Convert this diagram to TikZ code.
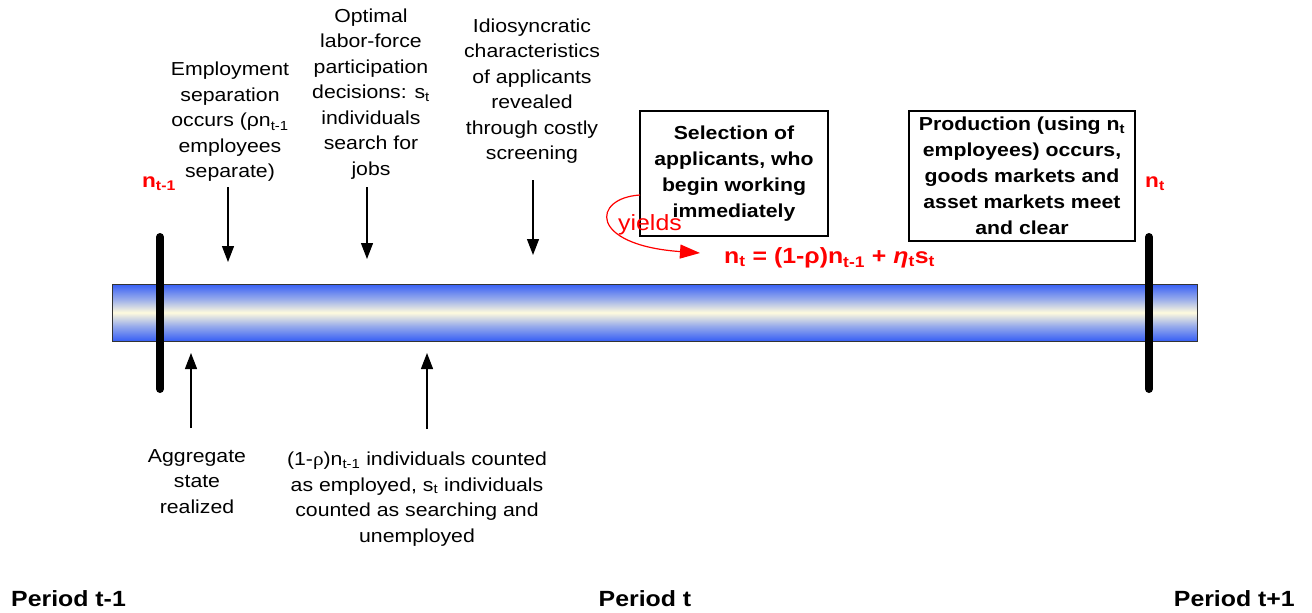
\documentclass[tikz,border=0pt]{standalone}
\usepackage{fontspec}
\setmainfont{Liberation Sans}[FakeStretch=1.13]
\newfontfamily\rhofont{Liberation Serif}[FakeStretch=1.13]
\usetikzlibrary{arrows.meta}
\definecolor{bbone}{RGB}{55,95,245}
\definecolor{bbtwo}{RGB}{150,170,235}
\definecolor{bbcream}{RGB}{255,251,222}
\pgfdeclareverticalshading{barshade}{100bp}{color(0bp)=(bbone); color(25bp)=(bbone);
  color(38bp)=(bbtwo); color(50bp)=(bbcream); color(62bp)=(bbtwo);
  color(75bp)=(bbone); color(100bp)=(bbone)}
\begin{document}
\begin{tikzpicture}[x=1pt,y=-1pt,
  txt/.style={align=center, inner sep=0pt, font=\fontsize{18.8}{25.5}\selectfont,
    execute at begin node=\strut, execute at end node=\strut},
  boxtxt/.style={draw, line width=2pt, align=center, inner sep=0pt,
    font=\bfseries\fontsize{18.8}{26}\selectfont},
  redlbl/.style={text=red, font=\bfseries\fontsize{20}{24}\selectfont, inner sep=0pt},
  period/.style={font=\bfseries\fontsize{22}{26}\selectfont, inner sep=0pt},
  evarrow/.style={line width=1.3pt, -{Triangle[width=12pt,length=16pt]}},
  tickline/.style={line width=8pt, line cap=round},
]
\useasboundingbox (0,0) rectangle (1312,613);

% timeline bar
\node[draw=black!80, line width=1pt, minimum width=1085pt, minimum height=57pt,
  inner sep=0pt, shading=barshade]
  (bar) at (654.5,312.5) {};

% period boundaries
\coordinate (L1) at (160,237);
\coordinate (L2) at (160,389);
\coordinate (R1) at (1149,237);
\coordinate (R2) at (1149,389);
\draw[tickline] (L1) -- (L2);
\draw[tickline] (R1) -- (R2);

\node[redlbl] (nprev) at (159,184) {n\textsubscript{t-1}};
\node[redlbl] (nnext) at (1155,184) {n\textsubscript{t}};

% events above
\node[txt] (emp) at (230,124) {Employment\\separation\\occurs (ρn\textsubscript{t-1}\\employees\\separate)};
\node[txt] (opt) at (371,96) {Optimal\\labor-force\\participation\\decisions: s\textsubscript{t}\\individuals\\search for\\jobs};
\node[txt] (idio) at (532,93) {Idiosyncratic\\characteristics\\of applicants\\revealed\\through costly\\screening};

\coordinate (a1s) at (228,187);
\coordinate (a1e) at (228,262);
\coordinate (a2s) at (367,187);
\coordinate (a2e) at (367,259);
\coordinate (a3s) at (533,180);
\coordinate (a3e) at (533,255);
\draw[evarrow] (a1s) -- (a1e);
\draw[evarrow] (a2s) -- (a2e);
\draw[evarrow] (a3s) -- (a3e);

% boxes
\node[boxtxt, minimum width=188pt, minimum height=125pt] (sel) at (734,173.5)
  {Selection of\\applicants, who\\begin working\\immediately};
\node[boxtxt, minimum width=226pt, minimum height=130pt] (prod) at (1022,176)
  {Production (using n\textsubscript{t}\\employees) occurs,\\goods markets and\\asset markets meet\\and clear};

% yields
\node[text=red, font=\fontsize{22}{26}\selectfont, inner sep=0pt] (yl) at (650,225) {yields};
\node[redlbl, font=\bfseries\fontsize{22}{26}\selectfont, anchor=west] (eq) at (724,258)
  {n\textsubscript{t} = (1-ρ)n\textsubscript{t-1} + \textit{η}\textsubscript{t}s\textsubscript{t}};
\coordinate (rc1) at (640,195);
\coordinate (eqtip) at (700,253);
\draw[red, line width=1.2pt, -{Triangle[width=14pt,length=20pt]}]
  (rc1) .. controls (592,198) and (588,245) .. (eqtip);

% events below
\coordinate (b1s) at (191,428);
\coordinate (b1e) at (191,353);
\coordinate (b2s) at (427,429);
\coordinate (b2e) at (427,353);
\draw[evarrow] (b1s) -- (b1e);
\draw[evarrow] (b2s) -- (b2e);
\node[txt] (agg) at (197,485) {Aggregate\\state\\realized};
\node[txt] (cnt) at (417,501) {(1-{\rhofont ρ})n\textsubscript{t-1} individuals counted\\as employed, s\textsubscript{t} individuals\\counted as searching and\\unemployed};

% period labels
\node[period, anchor=west] (p0) at (11,599) {Period t-1};
\node[period] (p1) at (645,599) {Period t};
\node[period, anchor=east] (p2) at (1295,599) {Period t+1};
\end{tikzpicture}
\end{document}
